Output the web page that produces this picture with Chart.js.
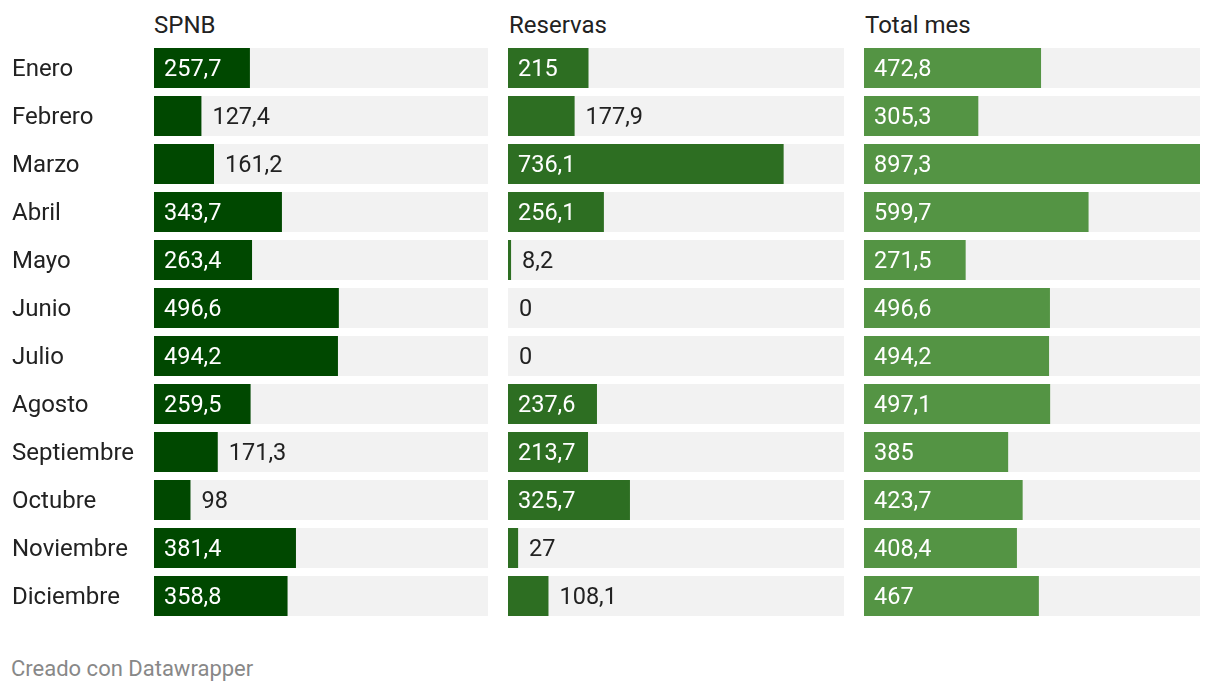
<!DOCTYPE html>
<html>
<head>
<meta charset="utf-8">
<script src="https://cdn.jsdelivr.net/npm/chart.js@4"></script>
<style>
  body { margin: 0; background: #fff; font-family: Roboto, sans-serif; }
  #wrap { position: relative; width: 1220px; height: 692px; }
  .title { position: absolute; top: 11px; font-size: 24px; color: #222; }
  .box { position: absolute; top: 44px; height: 576px; }
  #footer { position: absolute; left: 11px; top: 656px; font-size: 22px; color: #888; }
</style>
</head>
<body>
<div id="wrap">
  <div class="title" style="left:154px">SPNB</div>
  <div class="title" style="left:509px">Reservas</div>
  <div class="title" style="left:865px">Total mes</div>
  <div class="box" style="left:12px;width:476px"><canvas id="c1"></canvas></div>
  <div class="box" style="left:508px;width:336px"><canvas id="c2"></canvas></div>
  <div class="box" style="left:864px;width:336px"><canvas id="c3"></canvas></div>
  <div id="footer">Creado con Datawrapper</div>
</div>
<script>
const months = ["Enero", "Febrero", "Marzo", "Abril", "Mayo", "Junio", "Julio",
  "Agosto", "Septiembre", "Octubre", "Noviembre", "Diciembre"];
const spnb = [257.7, 127.4, 161.2, 343.7, 263.4, 496.6, 494.2, 259.5, 171.3, 98, 381.4, 358.8];
const reservas = [215, 177.9, 736.1, 256.1, 8.2, 0, 0, 237.6, 213.7, 325.7, 27, 108.1];
const totalMes = [472.8, 305.3, 897.3, 599.7, 271.5, 496.6, 494.2, 497.1, 385, 423.7, 408.4, 467];

const maxValue = 897.3;
const FONT = "Roboto, sans-serif";

function fmt(v) {
  return String(v).replace(".", ",");
}

// value labels: white inside the bar when it fits, dark outside otherwise
const valueLabels = {
  id: "valueLabels",
  afterDatasetsDraw(chart) {
    const ctx = chart.ctx;
    const meta = chart.getDatasetMeta(1);
    const values = chart.data.datasets[1].data;
    ctx.save();
    ctx.font = "23.5px " + FONT;
    ctx.textBaseline = "middle";
    ctx.textAlign = "left";
    meta.data.forEach((bar, i) => {
      const text = fmt(values[i]);
      const w = bar.x - bar.base;
      const tw = ctx.measureText(text).width;
      if (w >= tw + 20) {
        ctx.fillStyle = "#fff";
        ctx.fillText(text, bar.base + 10, bar.y + 2);
      } else {
        ctx.fillStyle = "#222";
        ctx.fillText(text, bar.x + 11, bar.y + 2);
      }
    });
    // month names to the left of the first panel
    if (chart.options.showMonths) {
      const y = chart.scales.y;
      ctx.font = "24px " + FONT;
      ctx.fillStyle = "#222";
      chart.data.labels.forEach((m, i) => {
        ctx.fillText(m, 0, y.getPixelForValue(i) + 2);
      });
    }
    ctx.restore();
  }
};

function makeChart(id, values, color, showMonths) {
  new Chart(document.getElementById(id), {
    type: "bar",
    data: {
      labels: months,
      datasets: [
        {
          data: months.map(() => maxValue),
          backgroundColor: "#f2f2f2",
          grouped: false,
          order: 2,
          categoryPercentage: 40 / 48,
          barPercentage: 1
        },
        {
          data: values,
          backgroundColor: color,
          grouped: false,
          order: 1,
          categoryPercentage: 40 / 48,
          barPercentage: 1
        }
      ]
    },
    options: {
      showMonths: showMonths,
      indexAxis: "y",
      responsive: true,
      maintainAspectRatio: false,
      animation: false,
      layout: { padding: { left: showMonths ? 142 : 0 } },
      plugins: { legend: { display: false }, tooltip: { enabled: false } },
      scales: {
        x: { display: false, min: 0, max: maxValue },
        y: { display: false }
      }
    },
    plugins: [valueLabels]
  });
}

makeChart("c1", spnb, "#004800", true);
makeChart("c2", reservas, "#2d6e22", false);
makeChart("c3", totalMes, "#549444", false);
</script>
</body>
</html>
